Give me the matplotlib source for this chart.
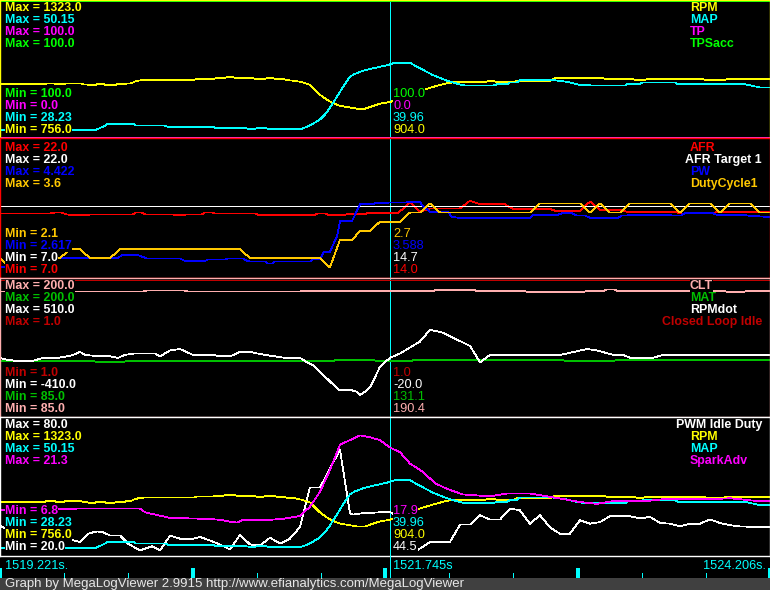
import matplotlib
matplotlib.use("Agg")
import matplotlib.pyplot as plt
from matplotlib.patches import Rectangle

W, H = 770, 590
T0 = 1519.221       # log time at the left edge [s]
SPAN = 4.985        # visible window [s]
CURSOR = 2.524      # cursor at 1521.745 s

# Series: time since window start [s] and logged value.
rpm_t = [0.000, 0.285, 0.304, 0.350, 0.369, 0.408, 0.427, 0.524, 0.544, 0.563, 0.583, 0.609,
         0.628, 0.673, 0.693, 0.738, 0.757, 0.803, 0.822, 0.848, 0.874, 0.900, 0.939, 1.256,
         1.275, 1.379, 1.405, 1.444, 1.470, 1.508, 1.534, 1.638, 1.664, 1.703, 1.729, 1.767,
         1.793, 1.832, 1.865, 1.910, 1.955, 2.007, 2.039, 2.072, 2.117, 2.156, 2.201, 2.266,
         2.311, 2.363, 2.395, 2.460, 2.525, 2.622, 2.687, 2.739, 2.829, 2.894, 2.946, 3.140,
         3.159, 3.198, 3.218, 3.321, 3.347, 3.561, 3.593, 3.904, 3.930, 4.098, 4.124, 4.163,
         4.189, 4.551, 4.577, 4.681, 4.707, 4.985]
rpm = [975, 975, 979, 979, 975, 975, 979, 979, 974, 974, 971, 971,
       975, 975, 971, 971, 975, 975, 979, 979, 987, 991, 994, 994,
       998, 998, 1001, 1001, 1005, 1005, 1001, 1001, 997, 997, 1001, 1001,
       997, 997, 992, 990, 984, 973, 952, 931, 910, 896, 885, 878,
       873, 873, 880, 894, 901, 925, 942, 952, 969, 980, 984, 984,
       988, 988, 984, 984, 990, 990, 1001, 1001, 997, 997, 992, 992,
       997, 997, 992, 992, 997, 997]

map_t = [0.000, 0.615, 0.647, 0.680, 0.699, 0.861, 0.880, 1.068, 1.088, 1.379, 1.398, 1.586,
         1.606, 1.651, 1.670, 1.716, 1.735, 1.955, 1.988, 2.026, 2.072, 2.104, 2.136, 2.182,
         2.221, 2.266, 2.298, 2.350, 2.415, 2.505, 2.557, 2.654, 2.719, 2.803, 2.894, 2.959,
         3.010, 3.192, 3.218, 3.282, 3.302, 3.347, 3.366, 3.580, 3.671, 3.755, 3.852, 4.046,
         4.066, 4.143, 4.163, 4.370, 4.389, 4.823, 4.920, 4.985]
map_kpa = [29.25, 29.25, 29.6, 30.0, 30.3, 30.3, 30.0, 30.0, 29.8, 29.8, 29.6, 29.6,
           29.5, 29.5, 29.6, 29.6, 29.5, 29.5, 29.8, 30.3, 31.0, 31.8, 32.9, 34.7,
           36.3, 37.95, 38.4, 38.9, 39.3, 39.8, 40.2, 40.2, 39.3, 38.2, 37.3, 36.8,
           36.5, 36.5, 36.7, 36.7, 37.0, 37.0, 37.4, 37.4, 37.1, 36.6, 36.5, 36.5,
           36.8, 36.8, 37.0, 37.0, 36.7, 36.7, 36.2, 36.2]

tp_t = [0.000, 4.985]
tp = [0.0, 0.0]
tpsacc_t = [0.000, 4.985]
tpsacc = [100.0, 100.0]

afr_t = [0.000, 0.324, 0.356, 0.401, 0.427, 0.486, 0.557, 0.583, 0.861, 0.880, 0.919, 0.939,
         1.114, 1.133, 1.191, 1.211, 1.308, 1.327, 1.372, 1.392, 1.651, 1.670, 2.039, 2.059,
         2.104, 2.123, 2.234, 2.253, 2.363, 2.382, 2.577, 2.654, 2.719, 2.784, 2.978, 3.043,
         3.108, 3.269, 3.321, 3.561, 3.593, 3.755, 3.820, 3.884, 4.014, 4.059, 4.370, 4.402,
         4.616, 4.642, 4.985]
afr = [13.9, 13.9, 14.0, 14.0, 13.8, 13.7, 13.7, 13.8, 13.8, 14.0, 14.0, 13.8,
       13.8, 13.75, 13.75, 13.8, 13.8, 14.0, 14.0, 13.9, 13.9, 13.75, 13.75, 13.9,
       13.9, 13.75, 13.75, 13.85, 13.85, 13.95, 13.95, 15.1, 14.1, 14.45, 14.45, 15.3,
       14.9, 14.9, 14.4, 14.4, 14.2, 14.2, 15.2, 14.3, 14.3, 14.1, 14.1, 13.9,
       13.9, 14.1, 14.1]

afr_target_t = [0.000, 4.985]
afr_target = [14.7, 14.7]

pw_t = [0.000, 0.078, 0.091, 0.311, 0.337, 0.764, 0.790, 0.893, 0.952, 1.165, 1.198, 1.327,
        1.347, 1.457, 1.476, 1.573, 1.593, 1.619, 1.716, 1.735, 1.761, 1.780, 2.007, 2.026,
        2.072, 2.098, 2.136, 2.182, 2.201, 2.279, 2.331, 2.415, 2.434, 2.719, 2.739, 2.784,
        2.900, 2.926, 2.978, 3.431, 3.451, 3.612, 3.638, 3.703, 3.735, 3.787, 3.820, 4.001,
        4.027, 4.059, 4.079, 4.325, 4.350, 4.409, 4.435, 4.616, 4.642, 4.810, 4.836, 4.985]
pw = [2.745, 2.745, 2.800, 2.800, 2.863, 2.863, 2.898, 2.898, 2.854, 2.854, 2.820, 2.820,
      2.841, 2.841, 2.854, 2.854, 2.828, 2.815, 2.815, 2.788, 2.788, 2.815, 2.815, 2.841,
      2.841, 2.943, 2.943, 3.148, 3.346, 3.346, 3.570, 3.570, 3.588, 3.596, 3.543, 3.470,
      3.470, 3.400, 3.390, 3.390, 3.430, 3.430, 3.450, 3.450, 3.420, 3.420, 3.390, 3.390,
      3.420, 3.420, 3.430, 3.430, 3.420, 3.420, 3.450, 3.450, 3.430, 3.430, 3.420, 3.400]

duty_t = [0.000, 0.065, 0.097, 0.388, 0.453, 0.518, 0.583, 0.712, 0.777, 1.554, 1.619, 2.072,
          2.136, 2.201, 2.279, 2.331, 2.395, 2.460, 2.590, 2.654, 2.719, 2.784, 2.849, 3.431,
          3.496, 3.755, 3.820, 3.884, 3.949, 4.014, 4.079, 4.338, 4.402, 4.467, 4.597, 4.661,
          4.726, 4.856, 4.920, 4.985]
duty = [2.3, 2.2, 2.3, 2.3, 2.4, 2.4, 2.3, 2.3, 2.4, 2.4, 2.3, 2.3,
        2.2, 2.5, 2.5, 2.6, 2.6, 2.7, 2.7, 2.8, 2.8, 2.9, 2.8, 2.8,
        2.9, 2.9, 2.8, 2.9, 2.8, 2.8, 2.9, 2.9, 2.8, 2.9, 2.9, 2.8,
        2.9, 2.9, 2.8, 2.8]

clt_t = [0.000, 0.926, 0.952, 1.191, 1.217, 1.942, 1.968, 2.803, 2.823, 3.069, 3.088, 3.392,
         3.412, 3.781, 3.800, 3.910, 3.930, 3.975, 3.994, 4.687, 4.707, 4.817, 4.836, 4.985]
clt = [189.9, 189.9, 190.7, 190.7, 189.9, 189.9, 190.4, 190.4, 191.0, 191.0, 190.4, 190.4,
       189.5, 189.5, 190.4, 190.4, 191.6, 191.6, 190.4, 190.4, 189.5, 189.5, 190.4, 190.4]

mat_t = [0.000, 0.609, 0.622, 0.803, 0.816, 2.162, 2.175, 2.421, 2.434, 2.667, 2.680, 3.645,
         3.658, 3.975, 3.988, 4.985]
mat = [131.1, 131.1, 130.2, 130.2, 131.1, 131.1, 132.0, 132.0, 131.1, 131.1, 132.0, 132.0,
       131.1, 131.1, 132.0, 132.0]

rpmdot_t = [0.000, 0.032, 0.097, 0.214, 0.278, 0.375, 0.434, 0.473, 0.518, 0.550, 0.647, 0.712,
            0.764, 0.809, 0.874, 1.003, 1.036, 1.101, 1.165, 1.249, 1.379, 1.424, 1.489, 1.554,
            1.619, 1.664, 1.716, 1.780, 1.845, 1.942, 1.988, 2.026, 2.117, 2.156, 2.201, 2.279,
            2.311, 2.331, 2.376, 2.395, 2.415, 2.460, 2.492, 2.525, 2.590, 2.719, 2.784, 2.868,
            3.043, 3.108, 3.172, 3.625, 3.671, 3.800, 3.865, 3.969, 4.033, 4.079, 4.228, 4.292,
            4.985]
rpmdot = [-20, -30, -40, -40, -20, -20, -10, 0, 20, 0, -10, -10,
          -20, 0, 10, 10, -10, 30, 40, 0, 0, -10, -10, 20,
          20, 10, 0, -10, -20, -20, -50, -70, -160, -200, -240, -240,
          -250, -270, -240, -220, -180, -80, -50, -20, 10, 90, 170, 150,
          60, -50, 0, 0, 10, 40, 30, 0, 0, -20, -20, 0,
          0]

cl_idle_t = [0.000, 4.985]
cl_idle = [1.0, 1.0]

pwm_t = [0.000, 0.065, 0.194, 0.434, 0.518, 0.570, 0.628, 0.667, 0.712, 0.777, 0.829, 0.906,
         0.984, 1.036, 1.101, 1.165, 1.249, 1.295, 1.360, 1.424, 1.489, 1.554, 1.619, 1.683,
         1.748, 1.813, 1.877, 1.942, 1.975, 2.007, 2.072, 2.201, 2.266, 2.285, 2.331, 2.505,
         2.538, 2.622, 2.700, 2.784, 2.913, 2.978, 3.043, 3.108, 3.172, 3.237, 3.302, 3.366,
         3.431, 3.496, 3.561, 3.625, 3.690, 3.755, 3.820, 3.884, 3.949, 4.079, 4.143, 4.208,
         4.273, 4.338, 4.402, 4.467, 4.532, 4.597, 4.661, 4.726, 4.791, 4.920, 4.985]
pwm = [32.9, 30.0, 28.0, 27.0, 25.5, 29.2, 30.2, 29.8, 28.4, 28.4, 24.8, 21.8,
       23.6, 21.8, 28.3, 27.0, 27.0, 27.7, 26.2, 24.4, 22.2, 28.7, 24.4, 24.0,
       27.4, 24.8, 27.0, 32.1, 41.0, 49.6, 49.6, 66.2, 38.1, 37.6, 38.1, 38.8,
       38.5, 30.0, 21.8, 25.5, 25.5, 33.2, 33.2, 37.3, 35.4, 35.4, 40.3, 39.5,
       33.6, 37.3, 31.9, 29.2, 29.2, 35.1, 33.6, 34.3, 36.9, 36.9, 35.9, 36.6,
       33.9, 33.6, 32.4, 33.6, 33.6, 35.5, 33.9, 32.9, 32.4, 32.1, 32.1]

spark_t = [0.000, 0.518, 0.906, 0.939, 0.991, 1.101, 1.340, 1.424, 1.489, 1.534, 1.573, 1.748,
           1.832, 1.942, 2.007, 2.072, 2.136, 2.201, 2.266, 2.331, 2.395, 2.460, 2.525, 2.590,
           2.654, 2.739, 2.816, 2.894, 2.997, 3.172, 3.282, 3.431, 3.580, 3.755, 3.865, 3.969,
           4.189, 4.292, 4.616, 4.726, 4.901, 4.985]
spark = [11.5, 11.7, 11.7, 11.3, 11.1, 10.7, 10.6, 10.5, 10.3, 10.2, 10.5, 10.5,
         10.6, 10.9, 11.9, 13.5, 15.8, 18.5, 19.0, 19.5, 19.3, 19.0, 18.2, 17.7,
         16.5, 15.6, 14.4, 13.8, 13.2, 13.0, 13.3, 13.3, 12.9, 12.4, 12.2, 12.5,
         12.5, 12.7, 12.7, 12.8, 12.5, 12.5]

YELLOW, CYAN, MAGENTA, GREEN = "#FFFF00", "#00FFFF", "#FF00FF", "#00FF00"
RED, WHITE, BLUE, ORANGE = "#FF0000", "#FFFFFF", "#0000FF", "#FFC800"
PINK, DGREEN, DRED = "#FFAFAF", "#00C000", "#C00000"

# (name, times, values, min label, max label, colour); cursor readouts follow the same order
panels = [
    dict(top=0, bottom=138, first_row=7, last_row=129, edge=YELLOW,
         series=[("RPM", rpm_t, rpm, "756.0", "1323.0", YELLOW),
                 ("MAP", map_t, map_kpa, "28.23", "50.15", CYAN),
                 ("TP", tp_t, tp, "0.0", "100.0", MAGENTA),
                 ("TPSacc", tpsacc_t, tpsacc, "100.0", "100.0", GREEN)],
         cursor=["904.0", "39.96", "0.0", "100.0"]),
    dict(top=138, bottom=278, first_row=147, last_row=269, edge=RED,
         series=[("AFR", afr_t, afr, "7.0", "22.0", RED),
                 ("AFR Target 1", afr_target_t, afr_target, "7.0", "22.0", WHITE),
                 ("PW", pw_t, pw, "2.617", "4.422", BLUE),
                 ("DutyCycle1", duty_t, duty, "2.1", "3.6", ORANGE)],
         cursor=["14.0", "14.7", "3.588", "2.7"]),
    dict(top=278, bottom=417, first_row=285, last_row=408, edge=PINK,
         series=[("CLT", clt_t, clt, "85.0", "200.0", PINK),
                 ("MAT", mat_t, mat, "85.0", "200.0", DGREEN),
                 ("RPMdot", rpmdot_t, rpmdot, "-410.0", "510.0", WHITE),
                 ("Closed Loop Idle", cl_idle_t, cl_idle, "1.0", "1.0", DRED)],
         cursor=["190.4", "131.1", "-20.0", "1.0"]),
    dict(top=417, bottom=556, first_row=424, last_row=546, edge=WHITE,
         series=[("PWM Idle Duty", pwm_t, pwm, "20.0", "80.0", WHITE),
                 ("RPM", rpm_t, rpm, "756.0", "1323.0", YELLOW),
                 ("MAP", map_t, map_kpa, "28.23", "50.15", CYAN),
                 ("SparkAdv", spark_t, spark, "6.8", "21.3", MAGENTA)],
         cursor=["44.5", "904.0", "39.96", "17.9"]),
]

FONT = "Liberation Sans"
LW = 0.55
fig = plt.figure(figsize=(W / 100, H / 100), dpi=100, facecolor="black")
renderer = fig.canvas.get_renderer()


def put(x, y, s, color, bold=True, size=8.9, ha="left"):
    """Place text centred on pixel row y (measured from the top)."""
    return fig.text(x / W, 1 - (y + 1.2) / H, s, color=color, ha=ha, va="center",
                    fontsize=size, fontweight="bold" if bold else "normal",
                    family=FONT, zorder=5,
                    bbox=dict(boxstyle="square,pad=0", fc="black", ec="none"))


for p in panels:
    top, bot = p["top"], p["bottom"]
    h = bot - top - 3
    ax = fig.add_axes([0, 1 - bot / H, 1, (bot - top) / H])
    ax.set_facecolor("black")
    ax.set_xlim(0, SPAN)
    ax.set_ylim(-1.5 / h, 1 + 1.5 / h)
    ax.set_xticks([])
    ax.set_yticks([])
    for sp in ax.spines.values():
        sp.set_color(p["edge"])
        sp.set_linewidth(1.0)
    ax.axvline(CURSOR, color=CYAN, lw=LW, antialiased=False)

    for name, t, v, lo, hi, col in p["series"]:
        lo_f, hi_f = float(lo), float(hi)
        if hi_f > lo_f:
            f = [(x - lo_f) / (hi_f - lo_f) for x in v]
        else:
            f = [1.0 for _ in v]  # flat channel sits on the top edge
        ax.plot(t, f, color=col, lw=LW, antialiased=False)

    for i, (name, t, v, lo, hi, col) in enumerate(p["series"]):
        y_max = p["first_row"] + 12 * i
        put(5, y_max, f"Max = {hi}", col)
        # legend on the right, pushed left when it would run off the edge
        txt = put(690, y_max, name, col)
        wpx = txt.get_window_extent(renderer=renderer).width
        if 690 + wpx > 762:
            txt.set_x((762 - wpx) / W)
        y_min = p["last_row"] - 12 * i
        put(5, y_min, f"Min = {lo}", col)
        put(393, y_min, p["cursor"][i], col, bold=False, size=9.2)

# time strip
axt = fig.add_axes([0, 1 - 578 / H, 1, 22 / H])
axt.set_facecolor("black")
axt.set_xlim(0, SPAN)
axt.set_ylim(0, 22)
axt.axis("off")
axt.axvline(CURSOR, color=CYAN, lw=LW, antialiased=False)
for i in range(13):
    tk = SPAN * i / 12
    tall = i % 3 == 0
    axt.vlines(tk, 0, 10 if tall else 5, color=CYAN, lw=1.5 if tall else 0.7,
               antialiased=False)
put(5, 565, f"{T0:.3f}s.", CYAN, bold=False, size=9.2)
put(393, 565, f"{T0 + CURSOR + 0.0:.3f}s", CYAN, bold=False, size=9.2)
put(766, 565, f"{T0 + SPAN:.3f}s.", CYAN, bold=False, size=9.2, ha="right")

# footer
fig.patches.append(Rectangle((0, 0), 1, 12 / H, transform=fig.transFigure,
                             facecolor="#404040", edgecolor="none", zorder=4))
fig.text(5 / W, 1 - 584.5 / H, "Graph by MegaLogViewer 2.9915 http://www.efianalytics.com/MegaLogViewer",
         color="#E8E8E8", fontsize=9.5, family=FONT, va="center", zorder=6)

fig.savefig("out.png", dpi=100, facecolor="black")
